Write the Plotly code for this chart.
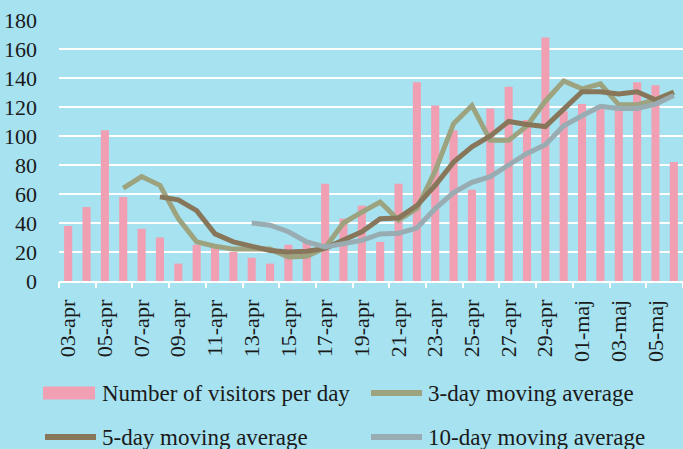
import plotly.graph_objects as go

dates = ["03-apr", "04-apr", "05-apr", "06-apr", "07-apr", "08-apr", "09-apr", "10-apr",
         "11-apr", "12-apr", "13-apr", "14-apr", "15-apr", "16-apr", "17-apr", "18-apr",
         "19-apr", "20-apr", "21-apr", "22-apr", "23-apr", "24-apr", "25-apr", "26-apr",
         "27-apr", "28-apr", "29-apr", "30-apr", "01-maj", "02-maj", "03-maj", "04-maj",
         "05-maj", "06-maj"]

visitors = [38, 51, 104, 58, 36, 30, 12, 25, 24, 20, 16, 12, 25, 28, 67, 43, 52, 27,
            67, 137, 121, 104, 63, 119, 134, 111, 168, 117, 122, 121, 119, 137, 135, 82]

ma3 = [None, None, None, 64, 72, 66, 43, 27, 24, 22, 22, 22, 16.5, 17, 23, 40, 47.5,
       54.5, 42, 50, 76, 108.5, 121, 97, 97, 107, 124, 138, 132.5, 136, 121.5, 121.5,
       125, 130.5]

ma5 = [None] * 5 + [58, 56, 48.5, 32.5, 27, 24, 21, 20, 20.5, 22.5, 28, 34, 43, 43.5,
                    52, 66, 82, 92.5, 100, 110, 108, 106.5, 118.5, 130.5, 130.5, 129,
                    130.5, 125, 130]

ma10 = [None] * 10 + [40, 38.5, 34, 27, 23.5, 25.5, 28, 32.5, 33, 36.5, 50, 61, 68, 72,
                      80.5, 88, 94, 107, 114, 120.5, 119, 119, 122, 128]

series_names = ["Number of visitors per day", "3-day moving average",
                "5-day moving average", "10-day moving average"]

y_ticks = [0, 20, 40, 60, 80, 100, 120, 140, 160, 180]

BG = "rgb(166,226,240)"
PINK = "rgb(240,160,178)"
GREEN = "rgb(156,163,126)"
BROWN = "rgb(136,118,90)"
GRAY = "rgb(152,172,178)"
TXT = "#1a1a1a"
FONT = "Liberation Serif"

W, H = 683, 449
ML, MR, MT, MB = 59, 0, 20, 168

fig = go.Figure()
fig.add_trace(go.Bar(x=dates, y=visitors, name=series_names[0], marker_color=PINK,
                     marker_line_width=0, showlegend=False))
fig.add_trace(go.Scatter(x=dates, y=ma3, name=series_names[1], mode="lines",
                         line=dict(color=GREEN, width=5), showlegend=False))
fig.add_trace(go.Scatter(x=dates, y=ma5, name=series_names[2], mode="lines",
                         line=dict(color=BROWN, width=5), showlegend=False))
fig.add_trace(go.Scatter(x=dates, y=ma10, name=series_names[3], mode="lines",
                         line=dict(color=GRAY, width=5), showlegend=False))
# empty trace to activate the tick-mark overlay axis
fig.add_trace(go.Scatter(x=[], y=[], xaxis="x2", showlegend=False, hoverinfo="skip"))

n = len(dates)
boundary_ticks = [i - 0.5 for i in range(0, n + 1, 2)]

fig.update_layout(
    width=W, height=H,
    margin=dict(l=ML, r=MR, t=MT, b=MB),
    paper_bgcolor=BG, plot_bgcolor=BG,
    bargap=0.56,
    font=dict(family=FONT, color=TXT, size=22),
    xaxis=dict(type="category", range=[-0.5, n - 0.5], tickvals=dates[::2],
               ticktext=dates[::2], tickangle=-90, ticks="", showgrid=False,
               showline=True, linecolor="white", linewidth=2,
               tickfont=dict(family=FONT, size=22, color=TXT), ticklabelstandoff=8),
    xaxis2=dict(type="linear", overlaying="x", anchor="y", side="bottom",
                range=[-0.5, n - 0.5], tickvals=boundary_ticks, ticks="outside",
                ticklen=6, tickwidth=2, tickcolor="white", showticklabels=False,
                showgrid=False, showline=False, zeroline=False),
    yaxis=dict(range=[0, 180], tickvals=y_ticks, showgrid=True, gridcolor="white",
               gridwidth=1.5, zeroline=False, showline=False, ticks="",
               tickfont=dict(family=FONT, size=22, color=TXT), ticklabelstandoff=21),
)

# custom legend (pixel layout converted to paper coordinates)
pw = W - ML - MR
ph = H - MT - MB


def px(x):
    return (x - ML) / pw


def py(y):
    return (H - MB - y) / ph


legend_items = [
    (series_names[0], "rect", PINK, 43, 393),
    (series_names[1], "line", GREEN, 369, 393),
    (series_names[2], "line", BROWN, 43, 437),
    (series_names[3], "line", GRAY, 369, 437),
]
for name, kind, color, x0, yc in legend_items:
    if kind == "rect":
        fig.add_shape(type="rect", xref="paper", yref="paper", x0=px(x0), x1=px(x0 + 52),
                      y0=py(yc - 6.5), y1=py(yc + 6.5), fillcolor=color, line_width=0)
    else:
        fig.add_shape(type="line", xref="paper", yref="paper", x0=px(x0 + 2), x1=px(x0 + 53),
                      y0=py(yc), y1=py(yc), line=dict(color=color, width=6))
    fig.add_annotation(text=name, xref="paper", yref="paper", x=px(x0 + 57), y=py(yc),
                       xanchor="left", yanchor="middle", showarrow=False,
                       font=dict(family=FONT, size=23, color=TXT))

fig.write_html("out.html",
               config={"displayModeBar": False},
               post_script="document.body.style.margin='0';"
                           "document.body.style.overflow='hidden';"
                           "document.body.style.background='" + BG + "';")
